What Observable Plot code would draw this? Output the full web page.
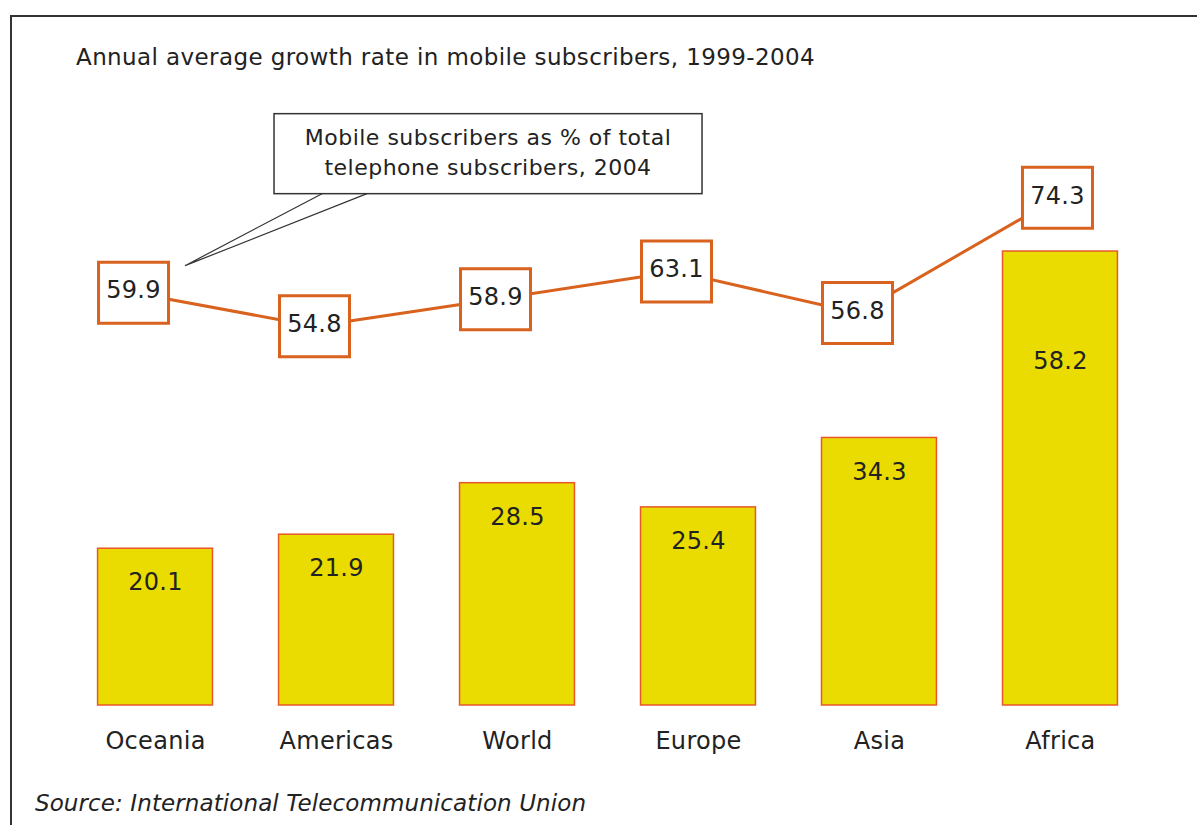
<!DOCTYPE html>
<html><head><meta charset="utf-8">
<script src="https://cdn.jsdelivr.net/npm/d3@7"></script>
<script src="https://cdn.jsdelivr.net/npm/@observablehq/plot@0.6"></script>
<style>
body{margin:0;background:#fff;font-family:"DejaVu Sans",sans-serif;color:#222;overflow:hidden}
#frame{position:absolute;left:10px;top:15px;width:1400px;height:1000px;border-top:2px solid #333;border-left:2px solid #333}
#title{position:absolute;left:76px;top:44px;font-size:23px;letter-spacing:0.4px;white-space:nowrap;line-height:26px}
#chart{position:absolute;left:0;top:90px}
#caption{position:absolute;left:35px;top:790px;font-size:23px;letter-spacing:0.1px;font-style:italic;white-space:nowrap;line-height:26px}
</style></head><body>
<div id="frame"></div>
<div id="title">Annual average growth rate in mobile subscribers, 1999-2004</div>
<div id="chart"></div>
<div id="caption">Source: International Telecommunication Union</div>
<script>
const regions = ["Oceania", "Americas", "World", "Europe", "Asia", "Africa"];
const growthRate = [20.1, 21.9, 28.5, 25.4, 34.3, 58.2];
const mobileShare = [59.9, 54.8, 58.9, 63.1, 56.8, 74.3];
const calloutLines = ["Mobile subscribers as % of total", "telephone subscribers, 2004"];

const data = regions.map((r, i) => ({region: r, growth: growthRate[i], share: mobileShare[i]}));

// secondary axis: mobile share is drawn on its own (offset) scale, mapped into bar units
const shareToBar = v => 2.36 + 0.8442 * v;
const labelCap = 48.5; // bar labels never go above the line
const orange = "#d8621e";
const boxShift = 22, lastShift = 3;

// boxes sit left of the bar centre, except the last one which sits over its bar
function shiftPoints(index, scales, values, dims, ctx, next) {
  const last = data.length - 1;
  for (const i of index) values.x[i] -= (i === last ? lastShift : boxShift);
  return next(index, scales, values, dims, ctx);
}

const boxSymbol = {draw(ctx) { ctx.rect(-35, -30.5, 70, 61); }};

const plot = Plot.plot({
  width: 1197, height: 680,
  marginTop: 30, marginBottom: 65, marginLeft: 31.5, marginRight: 13.5,
  style: {fontFamily: '"DejaVu Sans", sans-serif', fontSize: "24px", color: "#222", background: "transparent", overflow: "visible", letterSpacing: "0.3px"},
  x: {domain: regions, padding: 0.365, align: 0.5, round: false, label: null, tickSize: 0, tickPadding: 26},
  y: {domain: [0, 75], axis: null},
  marks: [
    Plot.barY(data, {x: "region", y: "growth", fill: "#eadc00", stroke: "#e8582a", strokeWidth: 1.5}),
    Plot.text(data, {x: "region", y: d => Math.min(d.growth, labelCap), text: d => d.growth.toFixed(1), dy: 34, fontSize: 24, fill: "#222"}),
    Plot.line(data, {x: "region", y: d => shareToBar(d.share), stroke: orange, strokeWidth: 3, render: shiftPoints}),
    Plot.dot(data, {x: "region", y: d => shareToBar(d.share), symbol: boxSymbol, fill: "white", stroke: orange, strokeWidth: 3, render: shiftPoints}),
    Plot.text(data, {x: "region", y: d => shareToBar(d.share), dy: -2, text: d => d.share.toFixed(1), fontSize: 24, fill: "#222", render: shiftPoints})
  ]
});
document.getElementById("chart").appendChild(plot);

// callout anchored to the first point of the line
const xs = plot.scale("x"), ys = plot.scale("y");
const ox = xs.apply(regions[0]) + xs.bandwidth / 2 - boxShift;
const oy = ys.apply(shareToBar(mobileShare[0]));
const svg = d3.select(plot);
const g = svg.append("g");
const bx = ox + 141, by = oy - 178.5, bw = 428, bh = 80;
g.append("rect").attr("x", bx).attr("y", by).attr("width", bw).attr("height", bh)
  .attr("fill", "white").attr("stroke", "#333").attr("stroke-width", 1.5);
g.append("polyline")
  .attr("points", `${ox + 189},${by + bh} ${ox + 52},${oy - 26.5} ${ox + 234},${by + bh}`)
  .attr("fill", "none").attr("stroke", "#333").attr("stroke-width", 1.2);
g.selectAll("text.c").data(calloutLines).join("text")
  .attr("x", bx + bw / 2).attr("y", (d, i) => by + 31 + i * 30)
  .attr("text-anchor", "middle").attr("font-size", 22).attr("letter-spacing", "0.5px").attr("fill", "#222").text(d => d);
</script>
</body></html>
